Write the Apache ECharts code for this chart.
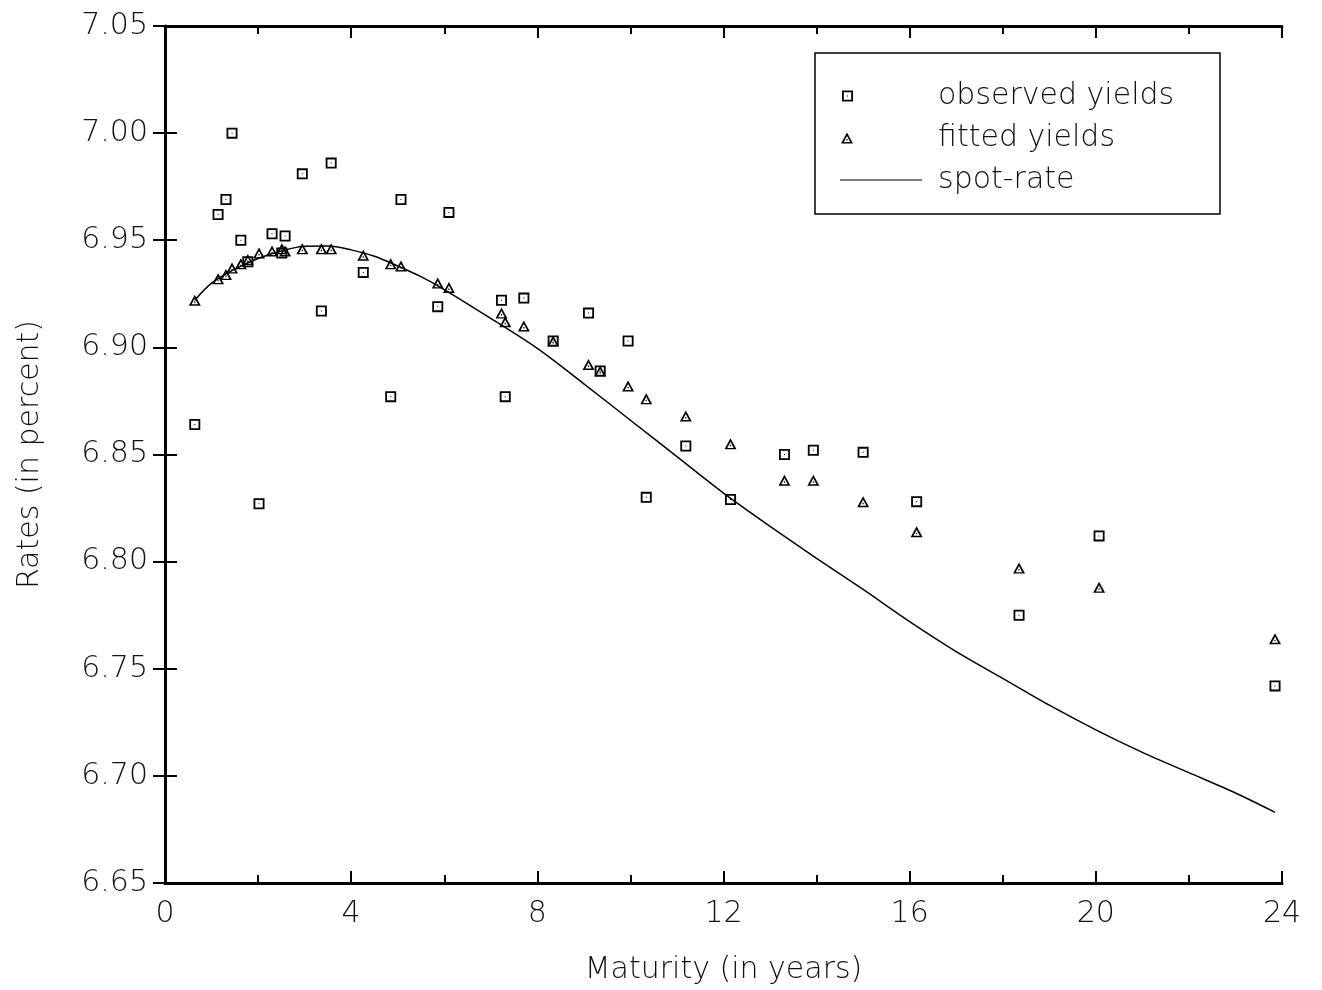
<!DOCTYPE html>
<html>
<head>
<meta charset="utf-8">
<script src="https://cdn.jsdelivr.net/npm/echarts@6/dist/echarts.min.js"></script>
<style>
  html, body { margin: 0; padding: 0; background: #fff; }
  #main { width: 1322px; height: 990px; }
</style>
</head>
<body>
<div id="main"></div>
<script>
// maturities (years) shared by observed and fitted yields
const maturity = [0.64, 1.14, 1.31, 1.44, 1.63, 1.78, 2.02, 2.30, 2.51, 2.58, 2.95, 3.36, 3.57, 4.26, 4.85, 5.07, 5.86, 6.10,
  7.23, 7.31, 7.71, 8.34, 9.10, 9.35, 9.95, 10.34, 11.19, 12.15, 13.31, 13.93, 15.00, 16.15, 18.35, 20.07, 23.85];
const observedYield = [6.864, 6.962, 6.969, 7.000, 6.950, 6.940, 6.827, 6.953, 6.944, 6.952, 6.981, 6.917, 6.986, 6.935, 6.877, 6.969, 6.919, 6.963,
  6.922, 6.877, 6.923, 6.903, 6.916, 6.889, 6.903, 6.830, 6.854, 6.829, 6.850, 6.852, 6.851, 6.828, 6.775, 6.812, 6.742];
const fittedYield = [6.922, 6.932, 6.934, 6.937, 6.939, 6.941, 6.944, 6.945, 6.946, 6.945, 6.946, 6.946, 6.946, 6.943, 6.939, 6.938, 6.930, 6.928,
  6.916, 6.912, 6.910, 6.903, 6.892, 6.889, 6.882, 6.876, 6.868, 6.855, 6.838, 6.838, 6.828, 6.814, 6.797, 6.788, 6.764];

// spot-rate curve
const spotMaturity = [0.64, 1, 1.5, 2, 2.5, 3, 3.5, 4, 4.5, 5, 5.5, 6, 7, 8, 9, 10, 11, 12, 13, 14, 15, 16, 17, 18, 19, 20, 21, 22, 23, 23.85];
const spotRate = [6.922, 6.930, 6.9365, 6.9415, 6.945, 6.9472, 6.9473, 6.9455, 6.9425, 6.938, 6.933, 6.927, 6.9135, 6.8995, 6.883, 6.866,
  6.849, 6.832, 6.8165, 6.8015, 6.787, 6.772, 6.758, 6.7455, 6.733, 6.7215, 6.711, 6.7015, 6.692, 6.683];

const seriesNames = ['observed yields', 'fitted yields', 'spot-rate'];

// marker shapes (hollow with a dot in the middle)
const squareSym = 'path://M0,0H11V11H0Z M1.8,1.8V9.2H9.2V1.8Z M5,5H6V6H5Z';
const triangleSym = 'path://M0,11L6,0L12,11Z M2.8,9.6L9.2,9.6L6,3.5Z M5.4,6.5H6.6V8H5.4Z';
// same shapes padded to the legend item width so the icon sits on the left
const squareIcon = 'path://M0,0L0,0 M93,12L93,12 M2,0.5H13V11.5H2Z M3.8,2.3V9.7H11.2V2.3Z M7,5.5H8V6.5H7Z';
const triangleIcon = 'path://M0,0L0,0 M93,12L93,12 M1,11.5L7,0.5L13,11.5Z M3.8,10.1L10.2,10.1L7,4Z M6.4,7H7.6V8.5H6.4Z';
const lineIcon = 'path://M0,0L0,0 M93,12L93,12 M0,5.4H82V6.6H0Z';

const font = 'DejaVu Sans';

const chart = echarts.init(document.getElementById('main'));

const pairs = (xs, ys) => xs.map((x, i) => [x, ys[i]]);

const xBase = {
  type: 'value', min: 0, max: 24, interval: 4,
  splitLine: { show: false },
  axisLine: { show: true, lineStyle: { color: '#000', width: 3 } },
  axisTick: { show: true, inside: true, length: 12, lineStyle: { color: '#000', width: 2 } },
  minorTick: { show: true, splitNumber: 2, length: 8, lineStyle: { color: '#000', width: 2 } }
};
const yBase = {
  type: 'value', min: 6.65, max: 7.05, interval: 0.05,
  splitLine: { show: false },
  axisLine: { show: true, lineStyle: { color: '#000', width: 2 } },
  axisTick: { show: true, inside: true, length: 12, lineStyle: { color: '#000', width: 2 } }
};

const option = {
  backgroundColor: '#fff',
  animation: false,
  grid: { left: 165, right: 40, top: 26, bottom: 106, show: false },
  xAxis: [
    Object.assign({}, xBase, {
      position: 'bottom',
      name: 'Maturity (in years)',
      nameLocation: 'middle',
      nameGap: 72,
      nameTextStyle: { fontFamily: font, fontSize: 30, fontWeight: 200, color: '#111' },
      axisLabel: { margin: 16, fontFamily: font, fontSize: 30, fontWeight: 200, color: '#111' }
    }),
    Object.assign({}, xBase, { position: 'top', axisLabel: { show: false } })
  ],
  yAxis: [
    Object.assign({}, yBase, {
      position: 'left',
      name: 'Rates (in percent)',
      nameLocation: 'middle',
      nameGap: 120,
      nameTextStyle: { fontFamily: font, fontSize: 30, fontWeight: 200, color: '#111' },
      axisLabel: {
        margin: 17, fontFamily: font, fontSize: 30, fontWeight: 200, color: '#111',
        formatter: v => v.toFixed(2)
      }
    }),
    Object.assign({}, yBase, {
      position: 'right',
      axisLine: { show: true, lineStyle: { color: '#000', width: 3 } },
      axisLabel: { show: false }
    })
  ],
  legend: {
    orient: 'vertical',
    left: 835,
    top: 76,
    itemWidth: 93,
    itemHeight: 12,
    itemGap: 12,
    selectedMode: false,
    textStyle: { fontFamily: font, fontSize: 30, fontWeight: 200, color: '#111', lineHeight: 30 },
    data: [
      { name: seriesNames[0], icon: squareIcon },
      { name: seriesNames[1], icon: triangleIcon },
      { name: seriesNames[2], icon: lineIcon }
    ]
  },
  graphic: [{
    type: 'rect',
    shape: { x: 815, y: 53, width: 405, height: 161 },
    style: { fill: 'none', stroke: '#000', lineWidth: 1.5 },
    z: 10
  }],
  series: [
    {
      name: seriesNames[2],
      type: 'line',
      data: pairs(spotMaturity, spotRate),
      smooth: 0.3,
      symbol: 'none',
      color: '#000',
      itemStyle: { color: '#000', borderWidth: 0 },
      lineStyle: { color: '#000', width: 1.5 },
      z: 2
    },
    {
      name: seriesNames[0],
      type: 'scatter',
      data: pairs(maturity, observedYield),
      symbol: squareSym,
      symbolSize: [11, 11],
      itemStyle: { color: '#000', borderWidth: 0, opacity: 1 },
      z: 3
    },
    {
      name: seriesNames[1],
      type: 'scatter',
      data: pairs(maturity, fittedYield),
      symbol: triangleSym,
      symbolSize: [12, 11],
      itemStyle: { color: '#000', borderWidth: 0, opacity: 1 },
      z: 4
    }
  ]
};

chart.setOption(option);
</script>
</body>
</html>
